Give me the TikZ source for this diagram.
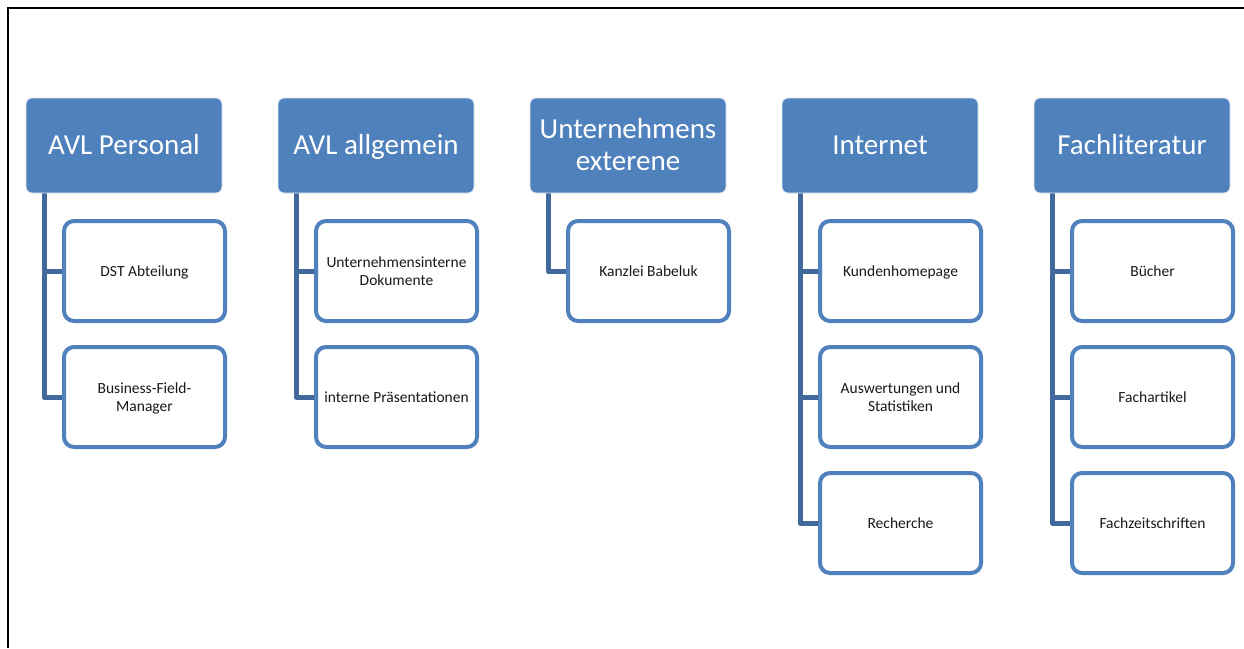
\documentclass[tikz,border=0pt]{standalone}
\usepackage{fontspec}
\setmainfont{Carlito}
\usetikzlibrary{positioning}
\pgfdeclarelayer{background}
\pgfsetlayers{background,main}
\definecolor{hdrblue}{HTML}{4F81BD}
\definecolor{connblue}{HTML}{41699C}
\newcommand{\hstrut}{\rule[-7.5pt]{0pt}{32pt}}
\newcommand{\cstrut}{\rule[-4pt]{0pt}{18pt}}
\tikzset{
  hdr/.style={rectangle, rounded corners=6pt, fill=hdrblue, draw=white!85!hdrblue, line width=0.8pt,
    minimum width=196pt, minimum height=95pt, outer sep=0pt, text=white, align=center,
    font=\fontsize{29}{32}\selectfont, inner sep=0pt},
  chd/.style={rectangle, rounded corners=10pt, fill=white, draw=hdrblue, line width=4pt,
    minimum width=161pt, minimum height=100pt, outer sep=0pt, text=black!90, align=center,
    font=\fontsize{15.5}{18}\selectfont, inner sep=0pt},
  conn/.style={draw=connblue, line width=5pt, line join=round, line cap=butt}
}
\begin{document}
\begin{tikzpicture}[x=1pt,y=-1pt]
\useasboundingbox (0,0) rectangle (1244,648);
% frame
\draw[line width=2pt] (1244,8) -- (8,8) -- (8,648);
% headers
\node[hdr] (h1) at (124,145.5) {\hstrut AVL Personal};
\node[hdr] (h2) at (376,145.5) {\hstrut AVL allgemein};
\node[hdr] (h3) at (628,145.5) {\hstrut Unternehmens\\\hstrut exterene};
\node[hdr] (h4) at (880,145.5) {\hstrut Internet};
\node[hdr] (h5) at (1132,145.5) {\hstrut Fachliteratur};
% children
\node[chd] (c11) at (144.5,271) {\cstrut DST Abteilung};
\node[chd] (c12) at (144.5,397) {\cstrut Business-Field-\\\cstrut Manager};
\node[chd] (c21) at (396.5,271) {\cstrut Unternehmensinterne\\\cstrut Dokumente};
\node[chd] (c22) at (396.5,397) {\cstrut interne Präsentationen};
\node[chd] (c31) at (648.5,271) {\cstrut Kanzlei Babeluk};
\node[chd] (c41) at (900.5,271) {\cstrut Kundenhomepage};
\node[chd] (c42) at (900.5,397) {\cstrut Auswertungen und\\\cstrut Statistiken};
\node[chd] (c43) at (900.5,523) {\cstrut Recherche};
\node[chd] (c51) at (1152.5,271) {\cstrut Bücher};
\node[chd] (c52) at (1152.5,397) {\cstrut Fachartikel};
\node[chd] (c53) at (1152.5,523) {\cstrut Fachzeitschriften};
% connectors
\begin{pgfonlayer}{background}
\foreach \h/\c in {h1/c11,h1/c12,h2/c21,h2/c22,h3/c31,h4/c41,h4/c42,h4/c43,h5/c51,h5/c52,h5/c53}{
  \draw[conn] ([xshift=18pt]\h.south west) |- (\c.west);
}
\end{pgfonlayer}
\end{tikzpicture}
\end{document}
